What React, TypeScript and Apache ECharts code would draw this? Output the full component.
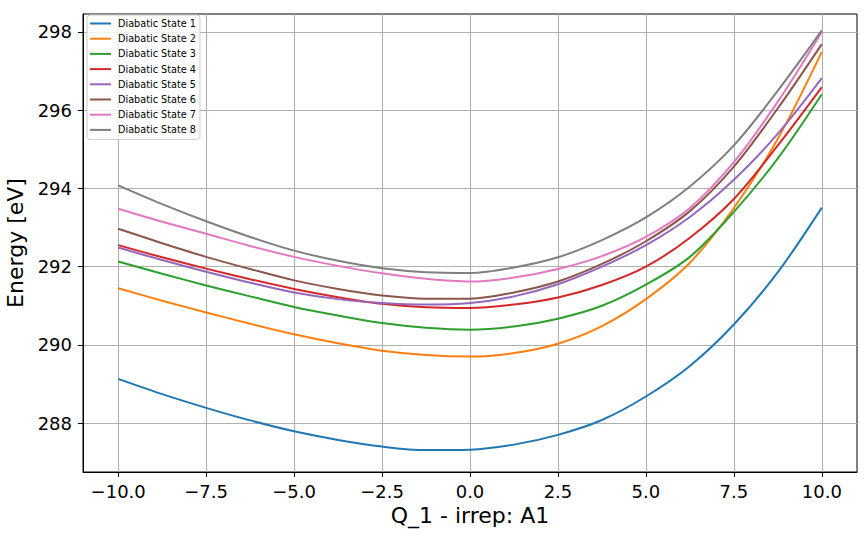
import React, { useEffect, useRef } from 'react';
import * as echarts from 'echarts';

const xValues = [-10, -8.75, -7.5, -6.25, -5, -3.75, -2.5, -1.25, 0, 1.25, 2.5, 3.75, 5, 6.25, 7.5, 8.75, 10];

const seriesNames = [
  'Diabatic State 1',
  'Diabatic State 2',
  'Diabatic State 3',
  'Diabatic State 4',
  'Diabatic State 5',
  'Diabatic State 6',
  'Diabatic State 7',
  'Diabatic State 8',
];

const state1 = [289.13, 288.74, 288.39, 288.07, 287.79, 287.57, 287.40, 287.31, 287.32, 287.45, 287.70, 288.08, 288.68, 289.46, 290.52, 291.86, 293.51];
const state2 = [291.45, 291.13, 290.83, 290.54, 290.27, 290.04, 289.85, 289.74, 289.70, 289.79, 290.03, 290.48, 291.17, 292.10, 293.50, 295.27, 297.49];
const state3 = [292.13, 291.82, 291.52, 291.24, 290.97, 290.75, 290.56, 290.44, 290.39, 290.47, 290.67, 291.00, 291.54, 292.25, 293.40, 294.77, 296.41];
const state4 = [292.55, 292.24, 291.95, 291.68, 291.43, 291.22, 291.05, 290.96, 290.94, 291.03, 291.21, 291.53, 292.00, 292.74, 293.73, 295.10, 296.59];
const state5 = [292.49, 292.17, 291.87, 291.59, 291.34, 291.17, 291.07, 291.03, 291.07, 291.24, 291.55, 292.00, 292.55, 293.27, 294.22, 295.40, 296.82];
const state6 = [292.97, 292.60, 292.25, 291.94, 291.65, 291.43, 291.26, 291.18, 291.18, 291.34, 291.62, 292.07, 292.65, 293.42, 294.56, 296.05, 297.69];
const state7 = [293.48, 293.15, 292.84, 292.53, 292.25, 292.02, 291.83, 291.69, 291.62, 291.72, 291.94, 292.27, 292.76, 293.50, 294.67, 296.22, 298.00];
const state8 = [294.08, 293.60, 293.16, 292.76, 292.41, 292.15, 291.96, 291.86, 291.84, 291.98, 292.24, 292.68, 293.26, 294.05, 295.10, 296.50, 298.04];

const colors = ['#1f77b4', '#ff7f0e', '#2ca02c', '#d62728', '#9467bd', '#8c564b', '#e377c2', '#7f7f7f'];

const xTicks = [-10, -7.5, -5, -2.5, 0, 2.5, 5, 7.5, 10];
const yTicks = [288, 290, 292, 294, 296, 298];

const FONT = 'DejaVu Sans';

export default function App() {
  const ref = useRef<HTMLDivElement>(null);
  useEffect(() => {
    const chart = echarts.init(ref.current as HTMLDivElement, null, { renderer: 'svg' });
    const states = [state1, state2, state3, state4, state5, state6, state7, state8];
    chart.setOption({
      animation: false,
      backgroundColor: '#ffffff',
      color: colors,
      grid: {
        left: 83,
        right: 10,
        top: 14,
        bottom: 65,
        show: true,
        borderColor: '#000',
        borderWidth: 1,
        containLabel: false,
        outerBoundsMode: 'none',
      },
      legend: {
        orient: 'vertical',
        left: 87,
        top: 15,
        padding: [3.5, 4, 4.5, 3],
        icon: 'rect',
        itemWidth: 21,
        itemHeight: 2,
        itemGap: 5.2,
        borderColor: '#cccccc',
        borderWidth: 1,
        borderRadius: 3,
        backgroundColor: 'rgba(255,255,255,0.8)',
        textStyle: { fontSize: 9.7, color: '#000', fontFamily: FONT, padding: [0, 0, 0, 2] },
        data: seriesNames,
      },
      xAxis: {
        type: 'value',
        min: -11,
        max: 11,
        name: 'Q_1 - irrep: A1',
        nameLocation: 'middle',
        nameGap: 30,
        nameTextStyle: { fontSize: 22, color: '#000', fontFamily: FONT },
        axisLine: { show: true, onZero: false, lineStyle: { color: '#000', width: 1 } },
        axisTick: { show: true, inside: false, length: 5, customValues: xTicks, lineStyle: { color: '#000', width: 1 } },
        axisLabel: {
          customValues: xTicks,
          margin: 10,
          fontSize: 18,
          color: '#000',
          fontFamily: FONT,
          formatter: (v: number) => (v < 0 ? '\u2212' : '') + Math.abs(v).toFixed(1),
        },
        splitLine: { show: true, lineStyle: { color: '#b0b0b0', width: 1.1 } },
      },
      yAxis: {
        type: 'value',
        min: 286.75,
        max: 298.46,
        name: 'Energy [eV]',
        nameLocation: 'middle',
        nameGap: 52,
        nameTextStyle: { fontSize: 22, color: '#000', fontFamily: FONT },
        axisLine: { show: true, onZero: false, lineStyle: { color: '#000', width: 1 } },
        axisTick: { show: true, inside: false, length: 5, customValues: yTicks, lineStyle: { color: '#000', width: 1 } },
        axisLabel: {
          customValues: yTicks,
          margin: 11,
          fontSize: 18,
          color: '#000',
          fontFamily: FONT,
          formatter: (v: number) => String(Math.round(v)),
        },
        splitLine: { show: true, lineStyle: { color: '#b0b0b0', width: 1.1 } },
      },
      series: states.map((d, i) => ({
        type: 'line',
        name: seriesNames[i],
        data: xValues.map((x, j) => [x, d[j]]),
        symbol: 'none',
        showSymbol: false,
        smooth: 0.33,
        lineStyle: { width: 2, color: colors[i] },
        itemStyle: { color: colors[i] },
        emphasis: { disabled: true },
      })),
    });
    return () => chart.dispose();
  }, []);
  return (
    <div
      ref={ref}
      style={{ position: 'fixed', left: 0, top: 0, width: 867, height: 537, background: '#fff' }}
    />
  );
}
